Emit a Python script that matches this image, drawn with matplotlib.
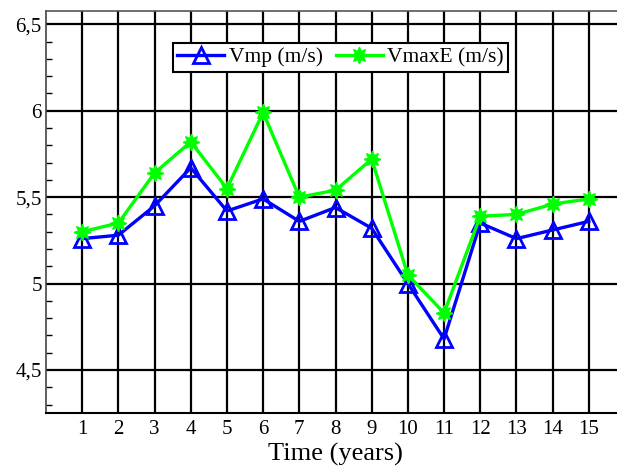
import matplotlib
matplotlib.use("Agg")
import matplotlib.pyplot as plt
from matplotlib.ticker import MultipleLocator, FuncFormatter

years = list(range(1, 16))
vmp = [5.26, 5.28, 5.45, 5.67, 5.42, 5.49, 5.36, 5.44, 5.32, 5.00, 4.68, 5.35, 5.26, 5.31, 5.36]
vmaxe = [5.30, 5.35, 5.64, 5.82, 5.55, 5.99, 5.50, 5.54, 5.72, 5.05, 4.83, 5.39, 5.40, 5.46, 5.49]
labels = ["Vmp (m/s)", "VmaxE (m/s)"]

plt.rcParams['font.family'] = ['Liberation Serif', 'DejaVu Serif']

W, H = 617, 469
fig = plt.figure(figsize=(W / 100, H / 100), dpi=100)
x0, x1 = 46, 625
y0, y1 = 11, 412.7
ax = fig.add_axes([x0 / W, 1 - y1 / H, (x1 - x0) / W, (y1 - y0) / H])

ax.set_xlim(0, 16)
ax.set_ylim(4.253, 6.577)

ax.set_xticks(years)
ax.yaxis.set_major_locator(MultipleLocator(0.5))
ax.yaxis.set_minor_locator(MultipleLocator(0.1))
ax.yaxis.set_major_formatter(FuncFormatter(lambda v, p: ('%g' % v).replace('.', ',')))

ax.grid(True, which='major', color='black', linewidth=1.6)
ax.set_axisbelow(True)

ax.tick_params(axis='x', which='both', length=0, labelsize=15, pad=5)
ax.tick_params(axis='y', which='major', length=0, labelsize=15, pad=3)
ax.tick_params(axis='y', which='minor', direction='in', length=4, width=1, color='black')

ax.spines['right'].set_visible(False)
ax.spines['top'].set_color('#555555')
ax.spines['top'].set_linewidth(1.2)
ax.spines['left'].set_color('#444444')
ax.spines['left'].set_linewidth(1.2)
ax.spines['bottom'].set_linewidth(1.5)

ax.plot(years, vmp, color='#0000ff', linewidth=2.4, marker='^', markersize=11,
        markerfacecolor='none', markeredgewidth=2, markeredgecolor='#0000ff', label=labels[0], zorder=3)
ax.plot(years, vmaxe, color='#00ff00', linewidth=2.4, marker=(8, 1, 0), markersize=12,
        markerfacecolor='#00ff00', markeredgecolor='#00ff00', markeredgewidth=1, label=labels[1], zorder=4)

fig.text(335 / W, 1 - 454 / H, "Time (years)", ha='center', va='center', fontsize=19)

leg = fig.legend(loc='upper center', bbox_to_anchor=(340.5 / W, 1 - 43 / H), ncol=2,
                 fontsize=15.5, frameon=True, fancybox=False, handlelength=2.2,
                 handletextpad=0.2, columnspacing=0.6, borderpad=0.2, borderaxespad=0)
leg.get_frame().set_edgecolor('black')
leg.get_frame().set_linewidth(1.5)
leg.get_frame().set_alpha(1)

fig.savefig("out.png", dpi=100)
